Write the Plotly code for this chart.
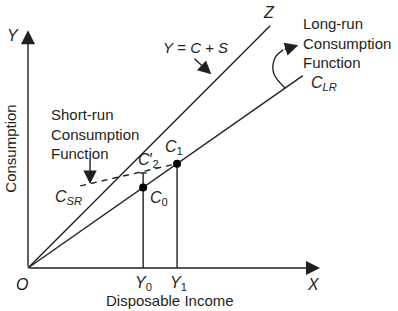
import plotly.graph_objects as go

# ---- data (units: income / consumption) ----
Y0 = 3.97
Y1 = 5.14
mpc_lr = 0.70            # slope of long-run consumption function
z_end = 8.35             # end of 45-degree line Y = C + S
clr_end = 9.48           # end of long-run function
csr_x = [1.8, 5.14]      # short-run (dashed) function
csr_y = [2.83, 3.60]
c2_prime = 3.28          # C'2 at Y0 on short-run function
x_axis_end = 10.07
y_axis_end = 8.2

C0 = mpc_lr * Y0
C1 = mpc_lr * Y1

# curved pointer for long-run label
curve_x = [8.86, 8.47, 8.52, 8.80]
curve_y = [6.21, 6.72, 7.25, 7.52]
curve_tip = (9.32, 7.68)

INK = "#231f20"
FONT = "Arial, Liberation Sans, sans-serif"

fig = go.Figure()

# 45-degree line
fig.add_trace(go.Scatter(x=[0, z_end], y=[0, z_end], mode="lines",
                         line=dict(color=INK, width=1.4), hoverinfo="skip"))
# long-run consumption function
fig.add_trace(go.Scatter(x=[0, clr_end], y=[0, mpc_lr * clr_end], mode="lines",
                         line=dict(color=INK, width=1.4), hoverinfo="skip"))
# short-run dashed
fig.add_trace(go.Scatter(x=csr_x, y=csr_y, mode="lines",
                         line=dict(color=INK, width=1.4, dash="6px,5px"), hoverinfo="skip"))
# verticals
fig.add_trace(go.Scatter(x=[Y0, Y0], y=[0, c2_prime], mode="lines",
                         line=dict(color=INK, width=1.4), hoverinfo="skip"))
fig.add_trace(go.Scatter(x=[Y1, Y1], y=[0, C1], mode="lines",
                         line=dict(color=INK, width=1.4), hoverinfo="skip"))
# small tick at C'2
fig.add_trace(go.Scatter(x=[Y0 - 0.12, Y0 + 0.12], y=[c2_prime, c2_prime], mode="lines",
                         line=dict(color=INK, width=1.4), hoverinfo="skip"))
# points
fig.add_trace(go.Scatter(x=[Y0, Y1], y=[C0, C1], mode="markers",
                         marker=dict(color="black", size=8), hoverinfo="skip"))
# curved pointer
fig.add_trace(go.Scatter(x=curve_x, y=curve_y, mode="lines",
                         line=dict(color=INK, width=1.4, shape="spline"), hoverinfo="skip"))

def arrow(x0, y0, x1, y1, size=1.3):
    fig.add_annotation(x=x1, y=y1, ax=x0, ay=y0, xref="x", yref="y", axref="x", ayref="y",
                       showarrow=True, arrowhead=2, arrowsize=size, arrowwidth=1.4,
                       arrowcolor=INK, text="", standoff=0)

# axes
arrow(0, 0, x_axis_end, 0, 2.0)
arrow(0, 0, 0, y_axis_end, 2.0)
# Y = C + S pointer
arrow(5.69, 7.26, 6.32, 6.68, 1.9)
# short-run pointer
arrow(2.14, 3.83, 2.14, 2.9, 1.9)
# long-run pointer tip
arrow(curve_x[-1], curve_y[-1], curve_tip[0], curve_tip[1], 1.9)

def label(x, y, text, size=15, **kw):
    fig.add_annotation(x=x, y=y, xref="x", yref="y", text=text, showarrow=False,
                       font=dict(family=FONT, size=size, color=INK), **kw)

label(-0.52, 8.03, "<i>Y</i>", 16)
label(-0.6, 4.1, "Consumption", 15, textangle=-90)
label(-0.22, -0.56, "<i>O</i>", 16)
label(Y0, -0.55, "<i>Y</i><sub>0</sub>", 16)
label(Y1 + 0.05, -0.55, "<i>Y</i><sub>1</sub>", 16)
label(4.9, -1.12, "Disposable Income", 15)
label(9.83, -0.56, "<i>X</i>", 16)
label(8.3, 8.82, "<i>Z</i>", 16)
label(5.78, 7.62, "<i>Y</i> = <i>C</i> + <i>S</i>", 15)
label(9.42, 7.77, "Long-run<br>Consumption<br>Function", 15, xanchor="left", align="left")
label(9.68, 6.36, "<i>C</i><sub><i>LR</i></sub>", 16, xanchor="left")
label(0.72, 4.62, "Short-run<br>Consumption<br>Function", 15, xanchor="left", align="left")
label(1.38, 2.42, "<i>C</i><sub><i>SR</i></sub>", 16)
label(4.17, 3.72, "<i>C</i>′<sub>2</sub>", 16)
label(5.05, 4.16, "<i>C</i><sub>1</sub>", 16)
label(4.5, 2.4, "<i>C</i><sub>0</sub>", 16)

fig.update_layout(
    width=398, height=311, margin=dict(l=0, r=0, t=0, b=0),
    paper_bgcolor="white", plot_bgcolor="white", showlegend=False,
    xaxis=dict(range=[-28 / 29, 370 / 29], visible=False, fixedrange=True),
    yaxis=dict(range=[-43 / 29, 268 / 29], visible=False, fixedrange=True),
)

fig.write_html("out.html")
